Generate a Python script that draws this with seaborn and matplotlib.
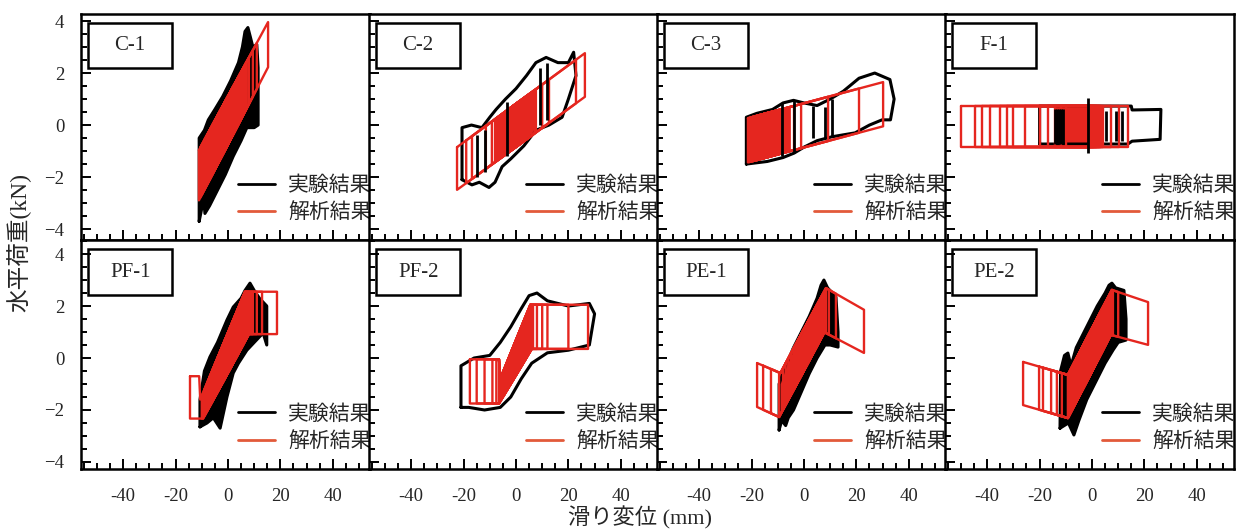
import numpy as np
import pandas as pd
import matplotlib
matplotlib.use('Agg')
import matplotlib.pyplot as plt
import seaborn as sns
from matplotlib.lines import Line2D
from matplotlib.patches import Rectangle
from matplotlib.ticker import MultipleLocator, FuncFormatter

# ---- data (displacement mm, load kN) ----
names = ['C-1', 'C-2', 'C-3', 'F-1', 'PF-1', 'PF-2', 'PE-1', 'PE-2']

# analysis (red): upper / lower branch breakpoints, reversal points of the
# drawn cycles, and the span that is covered solid by many small cycles
c1_up_x = [-12, 16];            c1_up_y = [-1.13, 4.09]
c1_lo_x = [-12, 16];            c1_lo_y = [-3.07, 2.36]
c1_rev_lo = [-11.1, -10.5, -10, -9, -8, -7, -6, -5, -4, -3, -2, -1]
c1_rev_hi = [15.3, 11, 9.5, 8, 7, 6, 5, 4, 3, 2.5, 2, 1]
c1_dense = (-10, 7.6)

c2_up_x = [-24, 28];            c2_up_y = [-0.96, 2.89]
c2_lo_x = [-24, 28];            c2_lo_y = [-2.60, 1.21]
c2_rev_lo = [-22.5, -19, -16.8, -11.5, -9.2, -8, -7, -6, -5, -4, -3, -2, -1]
c2_rev_hi = [26.3, 22.9, 12.6, 10, 7.6, 7, 6, 5, 4, 3, 2, 1.5, 1]
c2_dense = (-8, 7.6)

c3_up_x = [-23, 32];            c3_up_y = [0.22, 1.70]
c3_lo_x = [-23, 32];            c3_lo_y = [-1.48, 0.0]
c3_rev_lo = [-21.4, -21, -20.5, -20, -19.5, -19, -18.5, -18, -17.5, -17, -16.5, -16, -15.5, -15]
c3_rev_hi = [30.2, 21, 9.2, -1.1, -3.8, -8.4, -9.5, -10, -10.5, -11, -11.5, -12, -12.5, -13]
c3_dense = (-21, -5)

f1_up_x = [-57, 57];            f1_up_y = [0.73, 0.73]
f1_lo_x = [-57, 57];            f1_lo_y = [-0.85, -0.85]
f1_rev_lo = [-50, -44.7, -42, -39, -35, -32.4, -30, -25.6, -19.8, -16.8, -14, -12, -10]
f1_rev_hi = [13.7, 10.3, 7.3, 4.2, 3.6, 3.2, 2.6, 2, 1.4, 0.8, 0.2, -0.4, -1]
f1_dense = (-14, 3.6)

pf1_up_x = [-57, -11, -10.6, 6.5, 57]; pf1_up_y = [-0.7, -0.7, -1.6, 2.55, 2.55]
pf1_lo_x = [-57, -9.5, 8, 57];         pf1_lo_y = [-2.33, -2.33, 0.92, 0.92]
pf1_rev_lo = [-14.5, -10, -9, -8, -7, -6, -5, -4, -3, -2, -1]
pf1_rev_hi = [18.7, 13, 11, 9.5, 8, 7, 6, 5, 4, 3, 2]
pf1_dense = (-10, 9.5)

pf2_up_x = [-57, -6.5, -6, 5.5, 57];  pf2_up_y = [-0.05, -0.05, -0.8, 2.05, 2.05]
pf2_lo_x = [-57, -6.5, 6, 57];        pf2_lo_y = [-1.75, -1.75, 0.35, 0.35]
pf2_rev_lo = [-17.6, -15, -12, -9, -7.5, -6.5, -5.5, -4.5, -3.5, -2.5, -1.5]
pf2_rev_hi = [27.5, 20, 12, 10, 8, 6.5, 5.5, 4.5, 3.5, 2.5, 1.5]
pf2_dense = (-6.5, 6.5)

pe1_up_x = [-18, -9, 8.4, 23];   pe1_up_y = [-0.19, -0.58, 2.69, 1.85]
pe1_lo_x = [-18, -9.5, 7.8, 23]; pe1_lo_y = [-1.88, -2.27, 0.99, 0.19]
pe1_rev_lo = [-17.9, -15.6, -12.6, -9.5, -8, -7, -6, -5, -4, -3, -2]
pe1_rev_hi = [22.9, 12.2, 9.5, 8.4, 7, 6, 5, 4, 3, 2, 1]
pe1_dense = (-9.5, 8.4)

pe2_up_x = [-27, -9.2, 7.6, 22]; pe2_up_y = [-0.13, -0.65, 2.62, 2.13]
pe2_lo_x = [-27, -9.2, 7.2, 22]; pe2_lo_y = [-1.79, -2.31, 0.89, 0.49]
pe2_rev_lo = [-26.3, -20.2, -18.7, -15.6, -13.4, -11.5, -9.2, -8, -7, -6, -5, -4, -3]
pe2_rev_hi = [21.4, 10, 8, 7.6, 7, 6, 5, 4.5, 4, 3, 2, 1.5, 1]
pe2_dense = (-9.2, 7.6)

# experiment (black): outline of the measured loops
c1_exp_x = [-11, -11, -9, -7.5, -5, -2, 1, 4, 5.5, 6.5, 7.6, 8.5, 9.5, 11, 11.5, 11.5, 11.5, 10, 7.2, 5, 2, -1, -4, -7, -8.8, -9.5, -10, -11]
c1_exp_y = [-3.7, -0.5, -0.2, 0.2, 0.6, 1.1, 1.7, 2.4, 3.0, 3.6, 3.75, 3.4, 3.0, 3.1, 2.2, 1.0, 0.0, -0.1, -0.1, -0.6, -1.2, -1.9, -2.5, -3.1, -3.4, -2.6, -3.2, -3.7]

c2_exp_x = [-20.6, -20.6, -17, -13, -10, -7.6, -4, 0, 4, 7.6, 11.5, 16, 20, 22, 22.9, 20, 17.6, 12.6, 7.6, 3, -2, -5.3, -8, -10.3, -14, -16.8, -20.6]
c2_exp_y = [-2.1, -0.1, 0.0, -0.1, 0.3, 0.6, 1.0, 1.4, 1.9, 2.4, 2.6, 2.4, 2.4, 2.8, 1.9, 1.0, 0.3, 0.0, -0.2, -0.8, -1.3, -1.6, -2.2, -2.4, -2.2, -2.3, -2.1]

c3_exp_x = [-22, -22, -18, -12, -8, -4, 0, 5, 10, 15, 21, 27, 32.8, 34.4, 33, 29.8, 25, 19.5, 10.7, 5, 0, -3.8, -8, -14, -22]
c3_exp_y = [-1.5, 0.3, 0.45, 0.6, 0.85, 0.95, 0.85, 0.75, 1.0, 1.3, 1.8, 2.0, 1.75, 1.0, 0.2, 0.2, 0.0, -0.3, -0.45, -0.6, -0.85, -1.08, -1.25, -1.4, -1.5]

f1_exp_x = [-20, -20, 15, 15.3, 26.3, 26, 15.3, 13.7, -20]
f1_exp_y = [-0.73, 0.73, 0.73, 0.58, 0.6, -0.55, -0.62, -0.73, -0.73]

pf1_exp_x = [-10.7, -10.7, -9, -6.9, -4, -0.4, 2, 5, 6.5, 8.4, 10, 12, 14.8, 14.8, 13.4, 10, 7.2, 4, 2, -0.4, -3, -5.6, -8, -10.7]
pf1_exp_y = [-2.65, -1.6, -0.5, 0.04, 0.6, 1.46, 1.96, 2.3, 2.6, 2.88, 2.6, 2.3, 2.0, 0.5, 0.96, 0.6, 0.3, -0.2, -0.58, -1.5, -2.7, -2.3, -2.5, -2.65]

pf2_exp_x = [-21, -21, -16, -10, -6, -2, 2, 5, 8, 12, 20, 28, 30, 28, 20, 12, 6, 2, -2, -6, -12, -18, -21]
pf2_exp_y = [-1.9, -0.3, 0.0, 0.1, 0.6, 1.2, 1.9, 2.4, 2.5, 2.2, 2.0, 2.1, 1.7, 0.5, 0.3, 0.2, -0.2, -0.8, -1.5, -1.9, -2.0, -1.9, -1.9]

pe1_exp_x = [-9.5, -9.5, -7, -4, -1, 2, 5, 6.5, 7.6, 9, 12.2, 13, 13, 10, 8, 5, 2, -1, -4, -6, -7, -8.5, -9.5]
pe1_exp_y = [-2.77, -1.0, -0.3, 0.4, 1.0, 1.6, 2.3, 2.8, 3.0, 2.7, 2.35, 1.0, 0.42, 0.5, 0.5, 0.0, -0.6, -1.3, -2.0, -2.3, -2.6, -2.4, -2.77]

pe2_exp_x = [-12.2, -12, -10.5, -9.2, -8, -6, -2, 2, 5, 6.5, 7.6, 9, 12.2, 13, 13, 10, 8, 5, 2, -2, -5, -6.9, -9, -12.2]
pe2_exp_y = [-2.7, -0.5, 0.1, 0.19, -0.3, 0.4, 1.2, 2.0, 2.5, 2.8, 2.88, 2.7, 2.6, 1.5, 0.69, 0.6, 0.3, -0.2, -0.8, -1.6, -2.4, -2.96, -2.5, -2.7]

# experiment (black): vertical strokes that show on top of the red
c2_stk_x = [-15, -12, -3.4, 9.2, 11.8]
c2_stk_y0 = [-2.0, -1.8, -1.2, 0.0, 0.2]
c2_stk_y1 = [-0.4, -0.2, 0.9, 2.2, 2.4]
c3_stk_x = [-8.4, -3.8, 3.4, 8.0, 10.7]
c3_stk_y0 = [-1.2, -1.08, -0.5, -0.5, -0.45]
c3_stk_y1 = [0.85, 0.95, 0.75, 0.7, 1.0]
f1_stk_x = [-14, -13.3, -12.6, -11.9, -11.2, -1.5, 5.5, 9, 11.5]
f1_stk_y0 = [-0.73, -0.73, -0.73, -0.73, -0.73, -1.08, -0.6, -0.6, -0.6]
f1_stk_y1 = [0.6, 0.6, 0.6, 0.6, 0.6, 1.04, 0.55, 0.55, 0.55]

legend_labels = ['実験結果', '解析結果']


def loop_xy(up_x, up_y, lo_x, lo_y, a, b):
    xu = [a] + [v for v in up_x if a < v < b] + [b]
    xl = [b] + [v for v in lo_x[::-1] if a < v < b] + [a]
    xs = xu + xl + [a]
    ys = list(np.interp(xu, up_x, up_y)) + list(np.interp(xl, lo_x, lo_y)) + [float(np.interp(a, up_x, up_y))]
    return xs, ys


def red_loops(up_x, up_y, lo_x, lo_y, rev_lo, rev_hi):
    frames = []
    for i, (a, b) in enumerate(zip(rev_lo, rev_hi)):
        xs, ys = loop_xy(up_x, up_y, lo_x, lo_y, a, b)
        frames.append(pd.DataFrame({'x': xs, 'y': ys, 'cyc': i}))
    return pd.concat(frames, ignore_index=True)


red = [
    (c1_up_x, c1_up_y, c1_lo_x, c1_lo_y, c1_rev_lo, c1_rev_hi),
    (c2_up_x, c2_up_y, c2_lo_x, c2_lo_y, c2_rev_lo, c2_rev_hi),
    (c3_up_x, c3_up_y, c3_lo_x, c3_lo_y, c3_rev_lo, c3_rev_hi),
    (f1_up_x, f1_up_y, f1_lo_x, f1_lo_y, f1_rev_lo, f1_rev_hi),
    (pf1_up_x, pf1_up_y, pf1_lo_x, pf1_lo_y, pf1_rev_lo, pf1_rev_hi),
    (pf2_up_x, pf2_up_y, pf2_lo_x, pf2_lo_y, pf2_rev_lo, pf2_rev_hi),
    (pe1_up_x, pe1_up_y, pe1_lo_x, pe1_lo_y, pe1_rev_lo, pe1_rev_hi),
    (pe2_up_x, pe2_up_y, pe2_lo_x, pe2_lo_y, pe2_rev_lo, pe2_rev_hi),
]
dense = [c1_dense, c2_dense, c3_dense, f1_dense, pf1_dense, pf2_dense, pe1_dense, pe2_dense]
black = [(c1_exp_x, c1_exp_y), (c2_exp_x, c2_exp_y), (c3_exp_x, c3_exp_y), (f1_exp_x, f1_exp_y),
         (pf1_exp_x, pf1_exp_y), (pf2_exp_x, pf2_exp_y), (pe1_exp_x, pe1_exp_y), (pe2_exp_x, pe2_exp_y)]
strokes = {1: (c2_stk_x, c2_stk_y0, c2_stk_y1), 2: (c3_stk_x, c3_stk_y0, c3_stk_y1),
           3: (f1_stk_x, f1_stk_y0, f1_stk_y1)}
filled = [True, False, False, False, True, False, True, True]

sns.set_theme(style='white')
plt.rcParams['font.family'] = ['Liberation Serif', 'Noto Sans CJK JP']
plt.rcParams['axes.unicode_minus'] = True

RED = '#E5261F'
fig = plt.figure(figsize=(12.43, 5.32), dpi=100)
W, H = 1243, 532
lefts = [81, 369, 657, 945]
rows = [(14, 240), (240, 469)]
ylims = [(-4.42, 4.27), (-4.27, 4.54)]

for k, name in enumerate(names):
    r, c = divmod(k, 4)
    top, bot = rows[r]
    ax = fig.add_axes([lefts[c] / W, 1 - bot / H, 289 / W, (bot - top) / H])
    ax.set_facecolor('white')

    bx, by = black[k]
    if filled[k]:
        ax.fill(bx, by, color='black', lw=0)
    sns.lineplot(x=bx, y=by, sort=False, estimator=None, color='black', lw=2.2, ax=ax)

    # solid part made of many small cycles
    dx, dy = loop_xy(*red[k][:4], *dense[k])
    ax.fill(dx, dy, color=RED, lw=0)
    df = red_loops(*red[k])
    sns.lineplot(data=df, x='x', y='y', units='cyc', estimator=None, sort=False,
                 color=RED, lw=1.7, ax=ax, legend=False)

    if k in strokes:
        sx, s0, s1 = strokes[k]
        ax.vlines(sx, s0, s1, color='black', lw=2.0)

    ax.set_xlim(-56.1, 54.2)
    ax.set_ylim(*ylims[r])
    ax.set_xlabel('')
    ax.set_ylabel('')
    ax.xaxis.set_major_locator(MultipleLocator(20))
    ax.xaxis.set_minor_locator(MultipleLocator(5))
    ax.yaxis.set_major_locator(MultipleLocator(2))
    ax.yaxis.set_minor_locator(MultipleLocator(0.5))
    ax.tick_params(which='both', direction='in', top=False, right=False, left=True, bottom=True,
                   width=1.4, color='black')
    ax.tick_params(which='major', length=7)
    ax.tick_params(which='minor', length=4)
    ax.tick_params(axis='x', labelsize=13.5, pad=14, labelbottom=(r == 1))
    ax.tick_params(axis='y', labelsize=13.5, pad=12, labelleft=(c == 0))
    ax.xaxis.set_major_formatter(FuncFormatter(lambda v, p: f'{v:.0f}'))
    ax.yaxis.set_major_formatter(FuncFormatter(lambda v, p: f'{v:.0f}'.replace('-', '\u2212')))
    for s in ax.spines.values():
        s.set_visible(True)
        s.set_color('black')
        s.set_linewidth(1.8)

    # specimen label box
    ax.add_patch(Rectangle((0.024, 0.76), 0.29, 0.2, transform=ax.transAxes,
                           fill=False, ec='black', lw=1.8, zorder=5))
    ax.text(0.17, 0.86, name, transform=ax.transAxes, ha='center', va='center',
            fontsize=15, family='Liberation Serif', zorder=6)

    handles = [Line2D([], [], color='black', lw=2), Line2D([], [], color='#E25A3A', lw=2)]
    ax.legend(handles, legend_labels, loc='lower right', bbox_to_anchor=(1.005, 0.075),
              frameon=False, prop={'family': 'Noto Sans CJK JP', 'size': 15},
              handlelength=1.8, handletextpad=0.6, labelspacing=0.25,
              borderaxespad=0, borderpad=0)

fig.text(19 / W, 1 - 242 / H, '水平荷重(kN)', rotation=90, ha='center', va='center', fontsize=17)
fig.text(640 / W, 1 - 518 / H, '滑り変位 (mm)', ha='center', va='center', fontsize=16)

fig.savefig('out.png', dpi=100, facecolor='white')
